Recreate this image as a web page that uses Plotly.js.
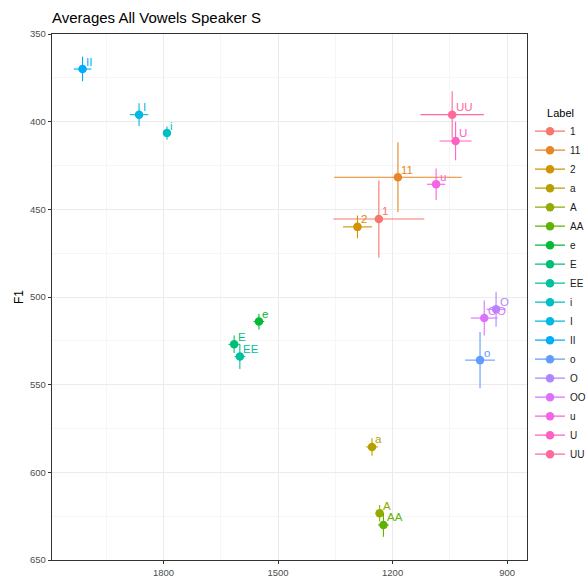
<!DOCTYPE html>
<html>
<head>
<meta charset="utf-8">
<script src="https://cdn.plot.ly/plotly-3.0.1.min.js"></script>
<style>html,body{margin:0;padding:0;background:#fff;}#chart{width:586px;height:579px;}</style>
</head>
<body>
<div id="chart"></div>
<script>
// Data (F2 on x, F1 on y), with error half-widths
var labels = ["1","11","2","a","A","AA","e","E","EE","i","I","II","o","O","OO","u","U","UU"];
var f2     = [1236, 1186, 1292, 1254, 1234, 1224, 1550, 1615, 1600, 1791, 1864, 2012, 971, 929, 960, 1086, 1035, 1044];
var f1     = [455.5, 431.7, 460, 585.5, 623.4, 630, 514, 527, 534, 406.5, 396, 370, 536, 507, 512, 435.7, 411, 396];
var f2Err  = [119, 167, 38, 15, 10, 14, 14, 15, 14, 8, 24, 23, 39, 25, 35, 24, 42, 83];
var f1Err  = [22, 20, 6.5, 5, 4.7, 6.8, 4.5, 5, 7, 3.8, 6.5, 7, 16, 10, 10, 9, 11, 13.3];
var xTicks = [900, 1200, 1500, 1800];
var yTicks = [350, 400, 450, 500, 550, 600, 650];

// ggplot2 default hue palette (HCL, c=100, l=65)
function hcl(h, c, l) {
  var Xn = 95.047, Yn = 100, Zn = 108.883;
  var hr = h * Math.PI / 180;
  var U = c * Math.cos(hr), V = c * Math.sin(hr);
  var Y = l > 8 ? Yn * Math.pow((l + 16) / 116, 3) : Yn * l / 903.3;
  var t = Xn + 15 * Yn + 3 * Zn;
  var un = 4 * Xn / t, vn = 9 * Yn / t;
  var up = U / (13 * l) + un, vp = V / (13 * l) + vn;
  var X = 9 * Y * up / (4 * vp);
  var Z = Y * (12 - 3 * up - 20 * vp) / (4 * vp);
  var x = X / 100, y = Y / 100, z = Z / 100;
  var r = 3.240479 * x - 1.537150 * y - 0.498535 * z;
  var g = -0.969256 * x + 1.875992 * y + 0.041556 * z;
  var b = 0.055648 * x - 0.204043 * y + 1.057311 * z;
  function gam(v) { v = v <= 0.0031308 ? 12.92 * v : 1.055 * Math.pow(v, 1 / 2.4) - 0.055; v = Math.max(0, Math.min(1, v)); return Math.round(v * 255); }
  function hex(n) { var s = n.toString(16); return s.length < 2 ? "0" + s : s; }
  return "#" + hex(gam(r)) + hex(gam(g)) + hex(gam(b));
}
var n = labels.length;
var colors = labels.map(function (_, i) { return hcl(15 + i * 360 / n, 100, 65); });

var FONT = "Liberation Sans, Arial, Helvetica, sans-serif";

var traces = labels.map(function (lab, i) {
  return {
    type: "scatter",
    mode: "lines+markers",
    name: lab,
    x: [f2[i]],
    y: [f1[i]],
    marker: { color: colors[i], size: 8.5 },
    line: { color: colors[i], width: 1.2 },
    error_x: { type: "data", array: [f2Err[i]], color: colors[i], thickness: 1.1, width: 0 },
    error_y: { type: "data", array: [f1Err[i]], color: colors[i], thickness: 1.1, width: 0 },
    hoverinfo: "name+x+y"
  };
});

var annotations = labels.map(function (lab, i) {
  return {
    x: f2[i], y: f1[i], xref: "x", yref: "y",
    text: lab, showarrow: false,
    xanchor: "left", yanchor: "bottom",
    xshift: 2.5, yshift: 0.5, borderpad: 0,
    font: { family: FONT, size: 11.5, color: colors[i] }
  };
});

var axisCommon = {
  showline: true, mirror: true, linecolor: "#333333", linewidth: 1.3,
  ticks: "outside", ticklen: 3, tickwidth: 1, tickcolor: "#333333",
  showgrid: true, gridcolor: "#EBEBEB", gridwidth: 1,
  zeroline: false,
  tickfont: { family: FONT, size: 9.5, color: "#4D4D4D" }
};

var layout = {
  width: 586, height: 579,
  paper_bgcolor: "#ffffff", plot_bgcolor: "#ffffff",
  margin: { l: 52, r: 59, t: 34, b: 19, autoexpand: false },
  showlegend: true,
  title: { text: "Averages All Vowels Speaker S", x: 0, xanchor: "left", xref: "paper", y: 1 - 18 / 579, yanchor: "middle",
           font: { family: FONT, size: 15, color: "#000000" } },
  xaxis: Object.assign({}, axisCommon, {
    range: [2092, 848], tickvals: xTicks, ticktext: xTicks.map(String),
    minor: { dtick: 150, tick0: 0, showgrid: true, gridcolor: "#F2F2F2", gridwidth: 0.7, ticks: "" }
  }),
  yaxis: Object.assign({}, axisCommon, {
    range: [650, 350], tickvals: yTicks, ticktext: yTicks.map(String),
    minor: { dtick: 25, tick0: 0, showgrid: true, gridcolor: "#F2F2F2", gridwidth: 0.7, ticks: "" },
    title: { text: "F1", font: { family: FONT, size: 12, color: "#000000" }, standoff: 3 }
  }),
  legend: {
    x: 1.0063, xanchor: "left", y: 0.87, yanchor: "top",
    bgcolor: "rgba(0,0,0,0)", borderwidth: 0,
    font: { family: FONT, size: 10, color: "#1a1a1a" },
    title: { text: "Label", side: "top center", font: { family: FONT, size: 11, color: "#000000" } },
    itemclick: false
  },
  annotations: annotations
};

Plotly.newPlot("chart", traces, layout, { displayModeBar: false, staticPlot: true });
</script>
</body>
</html>
